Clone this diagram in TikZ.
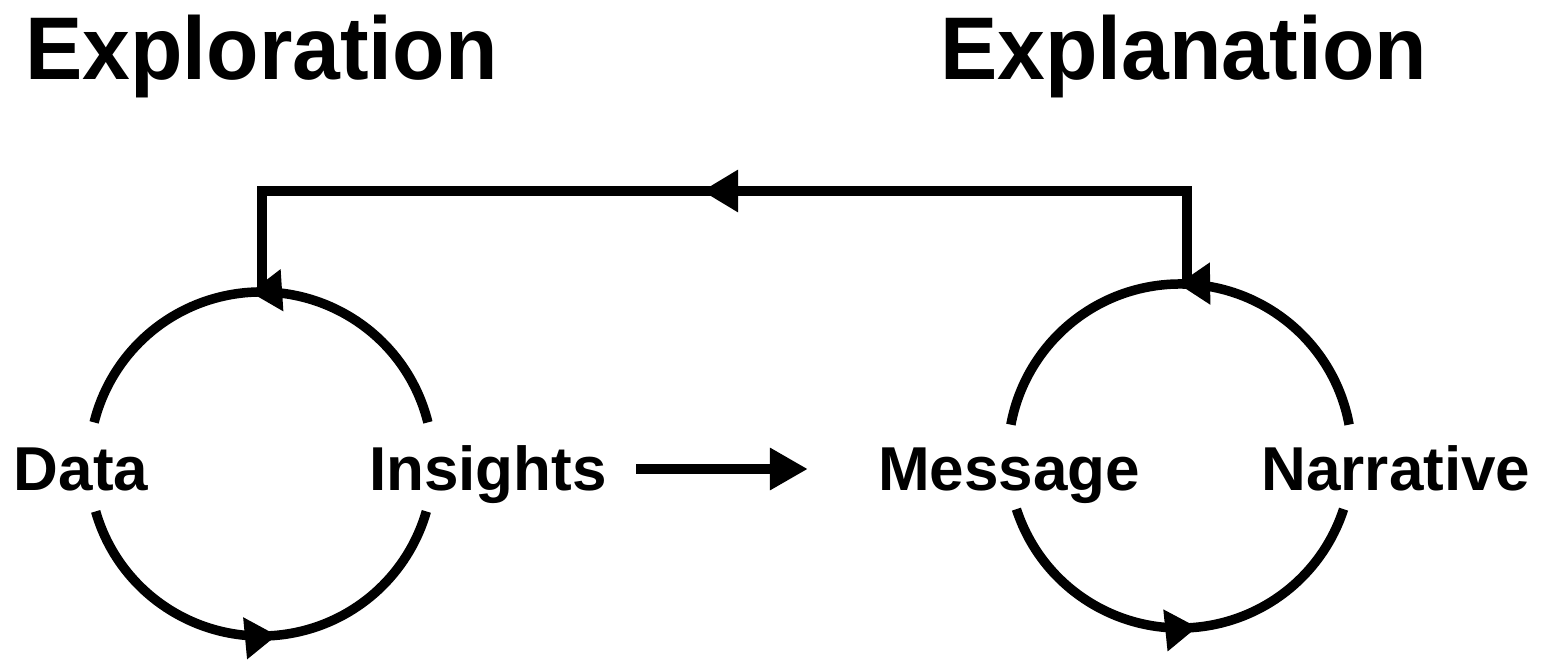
\documentclass[tikz,border=0pt]{standalone}
\usepackage{fontspec}
\setmainfont{Liberation Sans}
\usetikzlibrary{arrows.meta,decorations.markings}

\tikzset{
  flow/.style={line width=9.5pt, line join=miter},
  title/.style={font=\fontsize{89}{89}\selectfont\bfseries, inner sep=0pt, anchor=base west},
  stage/.style={font=\fontsize{62}{62}\selectfont\bfseries, inner sep=0pt, anchor=base},
  circtip/.tip={Triangle[length=32pt,width=40pt]},
  midtip/.tip={Triangle[length=36pt,width=40pt]},
  tipat/.style={postaction={decorate}, decoration={markings,
      mark=at position #1 with {\arrow{circtip}}}}
}
\newcommand{\headtext}[1]{\scalebox{0.965}[1]{#1}}

\begin{document}
\begin{tikzpicture}[x=1pt,y=1pt]
  \useasboundingbox (0,0) rectangle (1544,659);

  % headings
  \node[title] (explo) at (25,579) {\headtext{Exploration}};
  \node[title] (expla) at (940,579) {\headtext{Explanation}};

  % loop centres and contact points
  \coordinate (lc) at (261,195);
  \coordinate (rc) at (1180,203);
  \coordinate (ltop) at (262,367);
  \coordinate (rtop) at (1187,375);

  % stage labels
  \node[stage] (data) at (81,168) {Data};
  \node[stage] (ins)  at (488,168) {Insights};
  \node[stage] (msg)  at (1009,168) {Message};
  \node[stage] (nar)  at (1396,168) {Narrative};

  % exploration loop
  \draw[flow, tipat=0.524] ([shift={(14:172)}]lc) arc[start angle=14, end angle=166, radius=172];
  \draw[flow, tipat=0.536] ([shift={(196:172)}]lc) arc[start angle=196, end angle=344, radius=172];

  % explanation loop
  \draw[flow, tipat=0.504] ([shift={(10.5:172)}]rc) arc[start angle=10.5, end angle=169.5, radius=172];
  \draw[flow, tipat=0.54] ([shift={(198:172)}]rc) arc[start angle=198, end angle=342, radius=172];

  % feedback from explanation back to exploration
  \draw[flow, postaction={decorate}, decoration={markings,
      mark=at position 578pt with {\arrow{midtip}}}]
    (rtop) -- ++(0,93) -| (ltop);

  % insights feed the message
  \draw[flow, -{Triangle[length=38pt,width=40pt]}, shorten <=29pt, shorten >=70pt]
    ([yshift=22pt]ins.base east) -- ([yshift=22pt]msg.base west);
\end{tikzpicture}
\end{document}
